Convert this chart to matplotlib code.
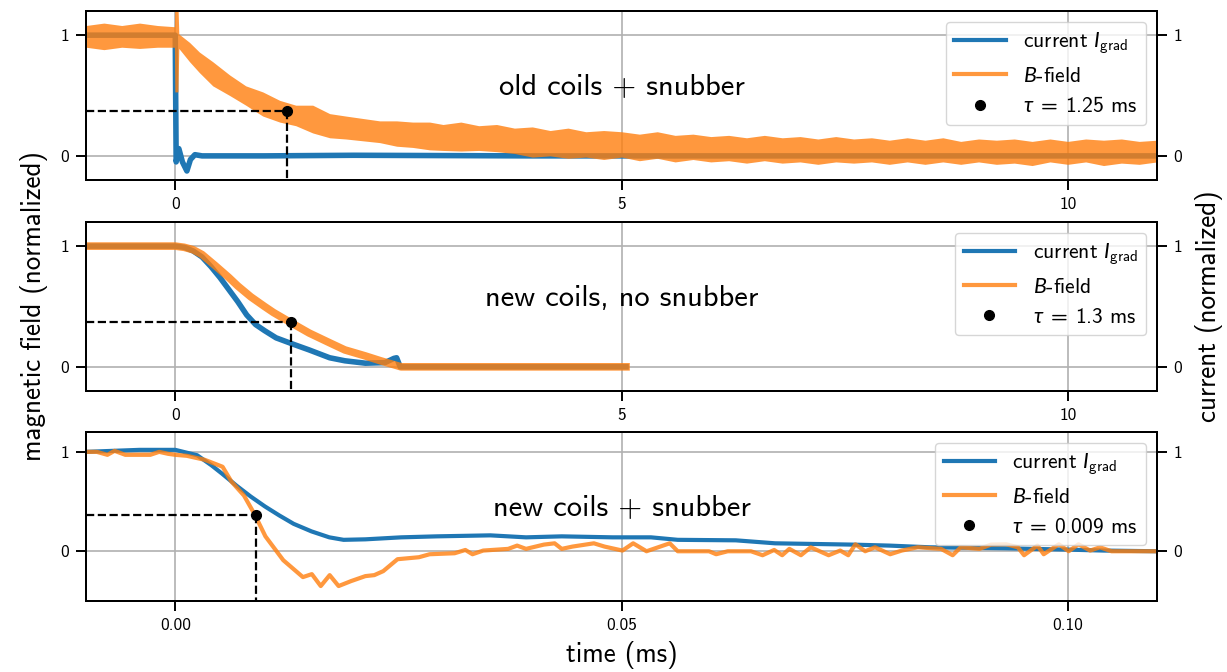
import matplotlib
matplotlib.use('Agg')
import matplotlib.pyplot as plt
from matplotlib.lines import Line2D

plt.rcParams['font.family'] = ['cmss10', 'DejaVu Sans']
plt.rcParams['mathtext.fontset'] = 'custom'
plt.rcParams['mathtext.rm'] = 'cmss10'
plt.rcParams['mathtext.sf'] = 'cmss10'
plt.rcParams['mathtext.it'] = 'Lato:italic'
plt.rcParams['axes.unicode_minus'] = False
plt.rcParams['axes.linewidth'] = 1.4

# ---------------- data ----------------
# panel 1: old coils + snubber (ms)
p1_t_cur = [-1.0, -0.01, 0.0, 0.005, 0.01, 0.04, 0.08, 0.13, 0.17, 0.22, 0.3, 1.0, 2.0, 4.0, 7.0, 11.0]
p1_cur = [1.0, 1.0, 1.0, 0.45, -0.05, 0.06, -0.05, -0.125, -0.03, 0.01, 0.0, 0.0, 0.005, 0.0, 0.0, 0.0]
p1_t_env = [-1.0, -0.8, -0.6, -0.4, -0.2, -0.01, -0.005, 0.03, 0.04, 0.16, 0.27, 0.42, 0.61, 0.79,
            0.98, 1.17, 1.35, 1.54, 1.73, 1.91, 2.1, 2.29, 2.48, 2.66,
            2.85, 3.0, 3.2, 3.4, 3.6, 3.8, 4.0, 4.2, 4.4, 4.6, 4.8, 5.0, 5.2, 5.4, 5.6, 5.8, 6.0,
            6.2, 6.4, 6.6, 6.8, 7.0, 7.2, 7.4, 7.6, 7.8, 8.0, 8.2, 8.4, 8.6, 8.8, 9.0, 9.2, 9.4,
            9.6, 9.8, 10.0, 10.2, 10.4, 10.6, 10.8, 11.0]
p1_b_upper = [1.08, 1.1, 1.08, 1.1, 1.08, 1.07, 1.25, 1.25, 1.01, 0.94, 0.86, 0.78, 0.67, 0.58,
              0.53, 0.46, 0.42, 0.42, 0.35, 0.33, 0.31, 0.29, 0.29, 0.28,
              0.28, 0.26, 0.28, 0.25, 0.26, 0.23, 0.24, 0.21, 0.23, 0.2, 0.21, 0.2, 0.18, 0.2, 0.17,
              0.18, 0.16, 0.17, 0.15, 0.17, 0.15, 0.16, 0.14, 0.16, 0.14, 0.15, 0.13, 0.15, 0.13,
              0.15, 0.12, 0.14, 0.13, 0.14, 0.12, 0.14, 0.12, 0.14, 0.13, 0.14, 0.12, 0.13]
p1_b_lower = [0.9, 0.88, 0.9, 0.89, 0.9, 0.9, 0.53, 0.53, 0.89, 0.78, 0.69, 0.58, 0.5, 0.42,
              0.33, 0.28, 0.25, 0.19, 0.15, 0.14, 0.125, 0.11, 0.08, 0.07,
              0.05, 0.045, 0.04, 0.045, 0.035, 0.02, -0.01, 0.0, -0.02, -0.01, -0.03, -0.01, -0.04,
              -0.02, -0.05, -0.03, -0.05, -0.04, -0.06, -0.04, -0.06, -0.05, -0.07, -0.05, -0.06,
              -0.05, -0.07, -0.05, -0.07, -0.05, -0.07, -0.05, -0.07, -0.06, -0.08, -0.05, -0.07,
              -0.05, -0.08, -0.06, -0.07, -0.05]

# panel 2: new coils, no snubber (ms)
p2_t_cur = [-0.97, 0.0, 0.1, 0.2, 0.3, 0.4, 0.5, 0.6, 0.7, 0.8, 0.9, 1.0, 1.13, 1.33, 1.5, 1.73,
            1.9, 2.13, 2.35, 2.45, 2.48, 2.52, 3.0, 4.0, 5.05]
p2_cur = [1.0, 1.0, 0.99, 0.96, 0.91, 0.83, 0.74, 0.64, 0.54, 0.43, 0.35, 0.3, 0.24, 0.185, 0.14, 0.075,
          0.05, 0.03, 0.035, 0.07, 0.075, 0.0, 0.0, 0.0, 0.0]
p2_t_b = [-0.97, 0.0, 0.1, 0.2, 0.3, 0.445, 0.6, 0.7, 0.846, 1.0, 1.1, 1.286, 1.5, 1.727, 1.9, 2.13,
          2.3, 2.53, 3.0, 4.0, 5.05]
p2_b = [1.0, 1.0, 0.99, 0.97, 0.93, 0.84, 0.74, 0.67, 0.58, 0.5, 0.45, 0.37, 0.28, 0.2, 0.14, 0.09,
        0.05, 0.0, 0.0, 0.0, 0.0]

# panel 3: new coils + snubber (ms)
p3_t_cur = [-0.01, -0.004, 0.0, 0.00245, 0.00405, 0.00525, 0.00686, 0.00846, 0.01006, 0.01166,
            0.01326, 0.01526, 0.01726, 0.01886, 0.0213, 0.0253, 0.0293, 0.0353, 0.0393, 0.0433,
            0.049, 0.0533, 0.0563, 0.0628, 0.0672, 0.0758, 0.080, 0.0845, 0.093, 0.0998, 0.104, 0.11]
p3_cur = [1.0, 1.02, 1.02, 0.966, 0.865, 0.78, 0.66, 0.55, 0.45, 0.36,
          0.276, 0.2, 0.14, 0.115, 0.12, 0.14, 0.15, 0.16, 0.14, 0.15,
          0.14, 0.14, 0.115, 0.11, 0.08, 0.067, 0.057, 0.04, 0.03, 0.017, 0.007, 0.0]
p3_t_b = [-0.01, -0.0088, -0.0076, -0.0068, -0.0056, -0.0028, -0.0018, -0.0008, 0.0, 0.0013, 0.0033,
          0.0053, 0.0063, 0.0077, 0.0089, 0.0101, 0.0121, 0.0143, 0.0153, 0.0163, 0.0173, 0.0183,
          0.0197, 0.0213, 0.0223, 0.0233, 0.0249, 0.0273, 0.0285, 0.0313, 0.0325, 0.0333, 0.0345,
          0.0373, 0.0383, 0.0393, 0.0413, 0.0425, 0.0433, 0.0445, 0.0469, 0.0481, 0.0501, 0.0513,
          0.0528, 0.0554, 0.0563, 0.0598, 0.0606, 0.0619, 0.0645, 0.0658, 0.0671, 0.068, 0.0688,
          0.0701, 0.0712, 0.0732, 0.0745, 0.0754, 0.0762, 0.0773, 0.0784, 0.0801, 0.0814, 0.0832,
          0.0858, 0.0871, 0.088, 0.0901, 0.0914, 0.0931, 0.0944, 0.0951, 0.0966, 0.0973, 0.099,
          0.1001, 0.1012, 0.1025, 0.1036, 0.1049, 0.1097]
p3_b = [1.0, 1.0, 0.97, 1.01, 0.97, 0.97, 1.0, 0.98, 0.97, 0.96, 0.92,
        0.85, 0.7, 0.56, 0.37, 0.15, -0.09, -0.26, -0.23, -0.35, -0.24, -0.35,
        -0.3, -0.25, -0.24, -0.2, -0.08, -0.06, -0.03, -0.02, 0.013, -0.03, 0.007,
        0.024, 0.057, 0.024, 0.067, 0.08, 0.024, 0.047, 0.08, 0.047, 0.007, 0.08,
        0.0, 0.08, 0.0, 0.0, -0.03, 0.0, 0.0, -0.04, 0.013, -0.04, 0.024,
        -0.04, 0.04, -0.04, 0.007, -0.04, 0.07, 0.0, 0.04, -0.03, 0.007, 0.04,
        0.024, -0.04, 0.04, 0.024, 0.067, 0.07, 0.04, -0.04, 0.057, -0.03, 0.07,
        0.0, 0.07, 0.007, 0.04, 0.0, 0.0]

titles = ['old coils + snubber', 'new coils, no snubber', 'new coils + snubber']
taus = [1.25, 1.3, 0.009]
tau_labels = [r'$\tau\;=\;1.25$ ms', r'$\tau\;=\;1.3$ ms', r'$\tau\;=\;0.009$ ms']
level = 0.368
xlims = [(-1, 11), (-1, 11), (-0.01, 0.11)]
ylims = [(-0.2, 1.2), (-0.2, 1.2), (-0.5, 1.2)]
xticks = [[0, 5, 10], [0, 5, 10], [0.0, 0.05, 0.10]]
xticklabels = [['0', '5', '10'], ['0', '5', '10'], ['0.00', '0.05', '0.10']]

BLUE = '#1f77b4'
ORANGE = '#ff7f0e'

fig = plt.figure(figsize=(12.27, 6.72), dpi=100)
bottoms = [0.7321, 0.4182, 0.1057]
axes = []
for i in range(3):
    ax = fig.add_axes([0.0701, bottoms[i], 0.8729, 0.2515])
    axes.append(ax)

tick_kw = dict(labelsize=12.5, length=7, width=1.4, pad=5)

for i, ax in enumerate(axes):
    if i == 0:
        ax.plot(p1_t_cur, p1_cur, color=BLUE, lw=4, zorder=2)
        ax.fill_between(p1_t_env, p1_b_lower, p1_b_upper, color=ORANGE, alpha=0.8, lw=0, zorder=3)
    elif i == 1:
        ax.plot(p2_t_cur, p2_cur, color=BLUE, lw=4, zorder=2)
        ax.plot(p2_t_b, p2_b, color=ORANGE, lw=5.5, alpha=0.8, zorder=3)
    else:
        ax.plot(p3_t_cur, p3_cur, color=BLUE, lw=3, zorder=2)
        ax.plot(p3_t_b, p3_b, color=ORANGE, lw=3, alpha=0.8, zorder=3)
    x0, x1 = xlims[i]
    y0, y1 = ylims[i]
    ax.plot([x0, taus[i]], [level, level], color='k', ls='--', lw=1.6, zorder=4)
    ax.plot([taus[i], taus[i]], [level, y0], color='k', ls='--', lw=1.6, zorder=4)
    ax.plot([taus[i]], [level], 'o', color='k', ms=7, zorder=5)
    ax.set_xlim(x0, x1)
    ax.set_ylim(y0, y1)
    ax.set_xticks(xticks[i])
    ax.set_xticklabels(xticklabels[i])
    ax.set_yticks([0, 1])
    ax.set_yticklabels(['0', '1'])
    ax.grid(True, color='#b0b0b0', lw=1.2)
    ax.tick_params(**tick_kw)
    ax.text(0.5, 0.55, titles[i], transform=ax.transAxes, ha='center', va='center', fontsize=22)
    ax2 = ax.twinx()
    ax2.set_ylim(y0, y1)
    ax2.set_yticks([0, 1])
    ax2.set_yticklabels(['0', '1'])
    ax2.tick_params(**tick_kw)
    handles = [Line2D([], [], color=BLUE, lw=3),
               Line2D([], [], color=ORANGE, lw=3, alpha=0.8),
               Line2D([], [], color='k', marker='o', ls='none', ms=7)]
    labels = [r'current $I_{\mathrm{grad}}$', r'$B$-field', tau_labels[i]]
    ax2.legend(handles, labels, loc='upper right', fontsize=15.5, handlelength=2.4)
    if i == 1:
        ax.set_ylabel('magnetic field (normalized)', fontsize=19.5, labelpad=9)
        ax2.set_ylabel('current (normalized)', fontsize=19.5, labelpad=9)

axes[2].set_xlabel('time (ms)', fontsize=19.5, labelpad=6)

fig.savefig('out.png', dpi=100)
